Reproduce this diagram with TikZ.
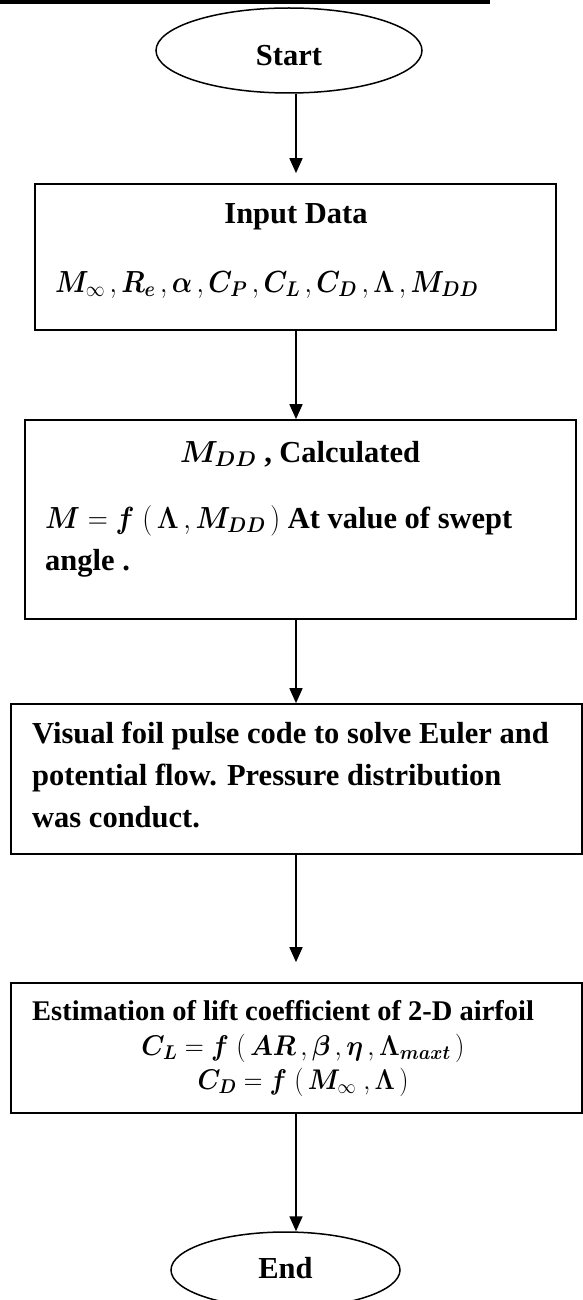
\RequirePackage{fix-cm}
\documentclass[tikz,border=0pt]{standalone}
\usepackage{amsmath,bm,graphicx}
\usepackage{fontspec}
\setmainfont{Liberation Serif}
\usetikzlibrary{arrows.meta,shapes.geometric}
\tikzset{
  boxnode/.style={draw, line width=1.7pt, inner sep=0pt, rectangle},
  ellnode/.style={draw, line width=1.5pt, inner sep=0pt, ellipse},
  txt/.style={inner sep=0pt, font=\bfseries\fontsize{30.5}{42}\selectfont},
  txtsmall/.style={inner sep=0pt, font=\bfseries\fontsize{28.5}{36}\selectfont},
  arr/.style={line width=1.7pt, -{Triangle[length=15pt,width=13pt]}}
}
\begin{document}
\begin{tikzpicture}[x=1pt,y=-1pt]
\useasboundingbox (0,0) rectangle (583,1300);
\fill (0,0) rectangle (490,4.5);
% shapes
\node[ellnode, minimum width=266pt, minimum height=85pt] (start) at (289,50.5) {};
\node[boxnode, minimum width=521pt, minimum height=146pt] (b1) at (295.5,257) {};
\node[boxnode, minimum width=551pt, minimum height=199pt] (b2) at (300.5,519.5) {};
\node[boxnode, minimum width=571pt, minimum height=150pt] (b3) at (296.5,779) {};
\node[boxnode, minimum width=571pt, minimum height=130pt] (b4) at (296.5,1048) {};
\node[ellnode, minimum width=229pt, minimum height=76pt] (end) at (285.5,1270) {};
% texts
\node[txt, anchor=base] (tstart) at (289,66) {Start};
\node[txt, anchor=base] (in1) at (296,223) {Input Data};
\node[txt, anchor=base west] (in2) at (55,292) {\resizebox{423pt}{\height}{$\bm{M}_{\infty}\,,\bm{R_e}\,,\bm{\alpha}\,,\bm{C_P}\,,\bm{C_L}\,,\bm{C_D}\,,\bm{\Lambda}\,,\bm{M_{DD}}$}};
\node[txt, anchor=base] (c1) at (300,462) {$\bm{M_{DD}}$ , Calculated};
\node[txt, anchor=base west] (c2) at (45,528) {\resizebox{235pt}{\height}{$\bm{M}=\bm{f}\;(\,\bm{\Lambda}\,,\bm{M_{DD}}\,)$} At value of swept};
\node[txt, anchor=base west] (c3) at (45,570) {angle .};
\node[txt, anchor=base west] (v1) at (32,743) {Visual foil pulse code to solve Euler and};
\node[txt, anchor=base west] (v2) at (32,785) {potential flow. Pressure distribution};
\node[txt, anchor=base west] (v3) at (32,827) {was conduct.};
\node[txtsmall, anchor=base west] (e1) at (32,1020) {Estimation of lift coefficient of 2-D airfoil};
\node[txtsmall, anchor=base] (e2) at (303,1055) {\resizebox{323pt}{\height}{$\bm{C_L}=\bm{f}\;(\,\bm{AR}\,,\bm{\beta}\,,\bm{\eta}\,,\bm{\Lambda}_{\bm{maxt}}\,)$}};
\node[txtsmall, anchor=base] (e3) at (303,1089) {\resizebox{211pt}{\height}{$\bm{C_D}=\bm{f}\;(\,\bm{M}_{\infty}\;,\bm{\Lambda}\,)$}};
\node[txt, anchor=base] (tend) at (285.5,1278) {End};
% connectors
\coordinate (ax) at (296,0);
\draw[arr, shorten >=10pt] (ax |- start.south) -- (ax |- b1.north);
\draw[arr] (ax |- b1.south) -- (ax |- b2.north);
\draw[arr] (ax |- b2.south) -- (ax |- b3.north);
\draw[arr, shorten >=20pt] (ax |- b3.south) -- (ax |- b4.north);
\draw[arr] (ax |- b4.south) -- (ax |- end.north);
\end{tikzpicture}
\end{document}
